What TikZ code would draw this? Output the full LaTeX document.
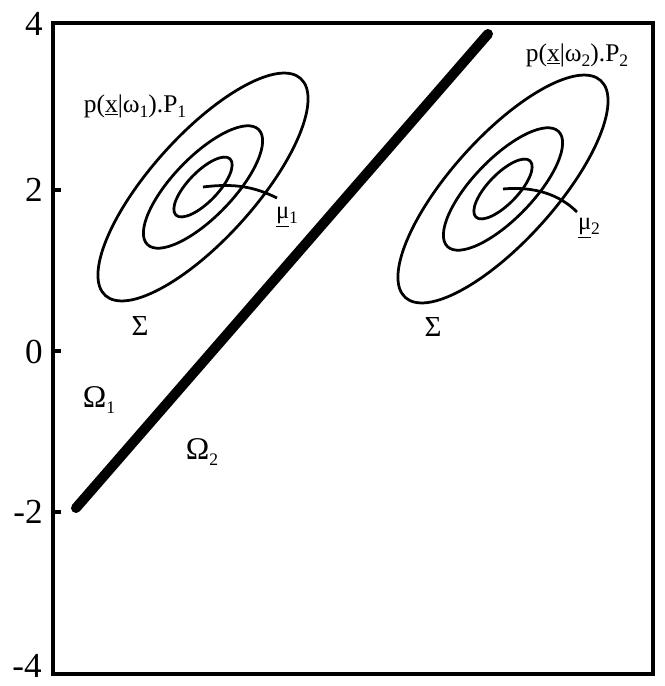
\documentclass[tikz,border=0pt]{standalone}
\usepackage{fontspec}
\setmainfont{Liberation Serif}
\newcommand\sbs[1]{\raisebox{-0.45ex}{\fontsize{10}{10}\selectfont #1}}
\begin{document}
\begin{tikzpicture}[x=0.02cm,y=-0.02cm,
  frame/.style={line width=0.065cm},
  contour/.style={line width=0.055cm},
  boundary/.style={line width=0.2cm,line cap=round},
  ticklabel/.style={font=\fontsize{20}{20}\selectfont,inner sep=0pt},
  annot/.style={font=\fontsize{14.5}{14.5}\selectfont,inner sep=0pt},
  region/.style={font=\fontsize{18}{18}\selectfont,inner sep=0pt},
  sigma/.style={font=\fontsize{16.5}{16.5}\selectfont,inner sep=0pt},
  mulab/.style={font=\fontsize{14}{14}\selectfont,inner sep=0pt}]
\useasboundingbox (0,0) rectangle (664,686);
% frame
\draw[frame] (53,23) rectangle (653,674);
% ticks
\foreach \yy in {190,351,512} \draw[frame] (53,\yy) -- (61,\yy);
% tick labels
\node[ticklabel] (t4) at (34,24) {4};
\node[ticklabel] (t2) at (34,190) {2};
\node[ticklabel] (t0) at (34,352) {0};
\node[ticklabel] (tm2) at (28,512) {-2};
\node[ticklabel] (tm4) at (27,666) {-4};
% decision boundary
\coordinate (b1) at (76,508);
\coordinate (b2) at (488,34);
\draw[boundary] (b1) -- (b2);
% class 1 contours
\coordinate (m1) at (203,187);
\draw[contour,rotate around={48:(m1)}] (m1) ellipse [x radius=2.92cm, y radius=1.04cm];
\draw[contour,rotate around={46:(m1)}] (m1) ellipse [x radius=1.6cm, y radius=0.6cm];
\draw[contour,rotate around={46:(m1)}] (m1) ellipse [x radius=0.78cm, y radius=0.3cm];
% class 2 contours
\coordinate (m2) at (503,189);
\draw[contour,rotate around={48:(m2)}] (m2) ellipse [x radius=2.92cm, y radius=1.04cm];
\draw[contour,rotate around={46:(m2)}] (m2) ellipse [x radius=1.6cm, y radius=0.6cm];
\draw[contour,rotate around={46:(m2)}] (m2) ellipse [x radius=0.78cm, y radius=0.3cm];
% mean pointers
\coordinate (e1) at (277,198);
\coordinate (e2) at (577,212);
\draw[contour] (m1) .. controls (235,183) and (255,187) .. (e1);
\draw[contour] (m2) .. controls (535,186) and (560,195) .. (e2);
\node[mulab] (mu1) at (287,217) {\underline{μ}\sbs{1}};
\node[mulab] (mu2) at (589,228) {\underline{μ}\sbs{2}};
% labels
\node[annot] (p1) at (135,106) {p(\underline{x}|ω\sbs{1}).P\sbs{1}};
\node[annot] (p2) at (577,55) {p(\underline{x}|ω\sbs{2}).P\sbs{2}};
\node[sigma] (s1) at (140,326) {Σ};
\node[sigma] (s2) at (433,327) {Σ};
\node[region] (o1) at (99,400) {Ω\sbs{1}};
\node[region] (o2) at (202,452) {Ω\sbs{2}};
\end{tikzpicture}
\end{document}
